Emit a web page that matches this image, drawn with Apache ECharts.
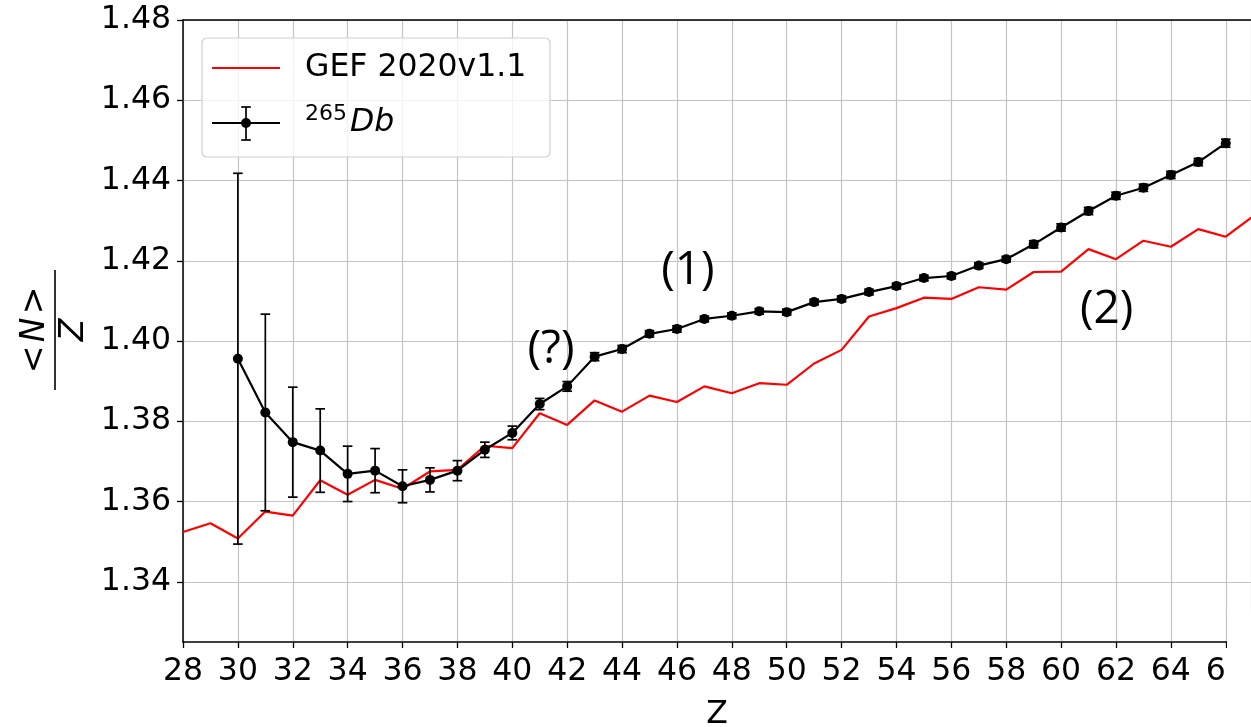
<!DOCTYPE html>
<html>
<head>
<meta charset="utf-8">
<script src="https://cdn.jsdelivr.net/npm/echarts@6/dist/echarts.min.js"></script>
<style>
  html, body { margin: 0; padding: 0; background: #fff; }
  #chart { width: 1251px; height: 727px; }
</style>
</head>
<body>
<div id="chart"></div>
<script>
// GEF 2020v1.1 prediction of <N>/Z versus fragment charge Z
const gefZ = [28, 29, 30, 31, 32, 33, 34, 35, 36, 37, 38, 39, 40, 41, 42, 43, 44, 45, 46, 47,
              48, 49, 50, 51, 52, 53, 54, 55, 56, 57, 58, 59, 60, 61, 62, 63, 64, 65, 66, 67];
const gefValues = [1.3524, 1.3546, 1.3508, 1.3575, 1.3565, 1.3653, 1.3617, 1.3654, 1.3632, 1.3675,
                   1.3679, 1.3739, 1.3733, 1.3820, 1.3791, 1.3852, 1.3824, 1.3864, 1.3848, 1.3887,
                   1.3870, 1.3895, 1.3891, 1.3944, 1.3978, 1.4061, 1.4082, 1.4108, 1.4105, 1.4134,
                   1.4128, 1.4172, 1.4173, 1.4229, 1.4204, 1.4250, 1.4235, 1.4279, 1.4260, 1.4311];

// 265Db measurement: mean <N>/Z and its uncertainty per Z
const dbZ = [30, 31, 32, 33, 34, 35, 36, 37, 38, 39, 40, 41, 42, 43, 44, 45, 46, 47, 48, 49,
             50, 51, 52, 53, 54, 55, 56, 57, 58, 59, 60, 61, 62, 63, 64, 65, 66];
const dbValues = [1.3956, 1.3822, 1.3748, 1.3727, 1.3669, 1.3677, 1.3638, 1.3654, 1.3677, 1.3729,
                  1.3771, 1.3843, 1.3887, 1.3961, 1.3980, 1.4018, 1.4030, 1.4055, 1.4063, 1.4074,
                  1.4072, 1.4097, 1.4105, 1.4122, 1.4137, 1.4157, 1.4162, 1.4188, 1.4204, 1.4241,
                  1.4283, 1.4324, 1.4362, 1.4382, 1.4414, 1.4446, 1.4493];
const dbErrors = [0.0462, 0.0245, 0.0137, 0.0104, 0.0069, 0.0055, 0.0041, 0.0030, 0.0025, 0.0019,
                  0.0017, 0.0014, 0.0012, 0.0010, 0.0009, 0.0008, 0.0008, 0.0007, 0.0007, 0.0007,
                  0.0007, 0.0007, 0.0007, 0.0007, 0.0007, 0.0007, 0.0007, 0.0007, 0.0007, 0.0009,
                  0.0009, 0.0009, 0.0009, 0.0009, 0.0009, 0.0009, 0.0010];

const yTicks = [1.34, 1.36, 1.38, 1.40, 1.42, 1.44, 1.46, 1.48];

const seriesNames = ['GEF 2020v1.1', '265Db'];
const notes = [
  { text: '(?)', z: 41.41, v: 1.3978 },
  { text: '(1)', z: 46.40, v: 1.4175 },
  { text: '(2)', z: 61.66, v: 1.4078 }
];

const FONT = 'DejaVu Sans';
const NOTE_FONT = 'Open Sans';
const FS = 31.5;

const gefData = gefZ.map((z, i) => [z, gefValues[i]]);
const dbData = dbZ.map((z, i) => [z, dbValues[i]]);
const errData = dbZ.map((z, i) => [z, dbValues[i], dbErrors[i]]);

const chart = echarts.init(document.getElementById('chart'), null, { renderer: 'canvas' });

const gridLine = { show: true, lineStyle: { color: '#c4c4c4', width: 1.2 } };

const option = {
  animation: false,
  backgroundColor: '#ffffff',
  grid: { left: 183, right: 0, top: 20, bottom: 85, containLabel: false, outerBoundsMode: 'none' },
  xAxis: [{
    type: 'value',
    min: 28, max: 66.92, interval: 2,
    name: 'Z', nameLocation: 'middle', nameGap: 57,
    nameTextStyle: { fontFamily: FONT, fontSize: FS, color: '#000' },
    axisLine: { show: true, onZero: false, lineStyle: { color: '#000', width: 1.5 } },
    axisTick: { show: true, inside: false, length: 6, lineStyle: { color: '#000', width: 1.3 } },
    axisLabel: { show: true, margin: 14, showMaxLabel: false, fontFamily: FONT, fontSize: FS, color: '#000',
                 formatter: v => String(Math.round(v)) },
    splitLine: gridLine
  }, {
    type: 'value', position: 'top',
    min: 28, max: 66.92,
    axisLine: { show: true, onZero: false, lineStyle: { color: '#000', width: 1.5 } },
    axisTick: { show: false }, axisLabel: { show: false }, splitLine: { show: false }
  }],
  yAxis: {
    type: 'value',
    min: 1.325, max: 1.48,
    axisLine: { show: true, onZero: false, lineStyle: { color: '#000', width: 1.5 } },
    axisTick: { show: true, inside: false, length: 6, customValues: yTicks, lineStyle: { color: '#000', width: 1.3 } },
    axisLabel: { show: true, margin: 12, customValues: yTicks, fontFamily: FONT, fontSize: FS, color: '#000',
                 formatter: v => v.toFixed(2) },
    splitLine: gridLine
  },
  series: [
    {
      name: seriesNames[0],
      type: 'line',
      data: gefData,
      showSymbol: false,
      symbol: 'none',
      lineStyle: { color: '#ff0000', width: 2.2 },
      z: 3
    },
    {
      name: seriesNames[1],
      type: 'line',
      data: dbData,
      symbol: 'circle',
      symbolSize: 10,
      itemStyle: { color: '#000' },
      lineStyle: { color: '#000', width: 2.2 },
      z: 4
    },
    {
      name: 'errors',
      type: 'custom',
      data: errData,
      clip: true,
      z: 5,
      renderItem: function (params, api) {
        const x = api.value(0), y = api.value(1), e = api.value(2);
        const top = api.coord([x, y + e]);
        const bot = api.coord([x, y - e]);
        const hw = 4.8;
        const st = { stroke: '#000', lineWidth: 1.7 };
        return {
          type: 'group',
          children: [
            { type: 'line', shape: { x1: top[0], y1: top[1], x2: bot[0], y2: bot[1] }, style: st },
            { type: 'line', shape: { x1: top[0] - hw, y1: top[1], x2: top[0] + hw, y2: top[1] }, style: st },
            { type: 'line', shape: { x1: bot[0] - hw, y1: bot[1], x2: bot[0] + hw, y2: bot[1] }, style: st }
          ]
        };
      }
    }
  ]
};

chart.setOption(option);

// Text notes placed in data coordinates
const noteGraphics = notes.map(n => {
  const p = chart.convertToPixel({ gridIndex: 0 }, [n.z, n.v]);
  return {
    type: 'text', x: p[0], y: p[1], z: 50,
    style: { text: n.text, fontFamily: NOTE_FONT, fontSize: 46, fill: '#000', align: 'center', verticalAlign: 'middle' }
  };
});

chart.setOption({
  graphic: [
    // legend frame
    { type: 'rect', z: 60, shape: { x: 202, y: 38, width: 348, height: 119, r: 5 },
      style: { fill: 'rgba(255,255,255,0.8)', stroke: '#cfcfcf', lineWidth: 1.2 } },
    { type: 'line', z: 61, shape: { x1: 212, y1: 68, x2: 280, y2: 68 },
      style: { stroke: '#ff0000', lineWidth: 2.2 } },
    { type: 'text', z: 61, x: 305, y: 68,
      style: { text: seriesNames[0], fontFamily: FONT, fontSize: FS, fill: '#000', verticalAlign: 'middle' } },
    { type: 'line', z: 61, shape: { x1: 212, y1: 123, x2: 280, y2: 123 },
      style: { stroke: '#000', lineWidth: 2.2 } },
    { type: 'line', z: 61, shape: { x1: 246, y1: 107, x2: 246, y2: 140 },
      style: { stroke: '#000', lineWidth: 1.7 } },
    { type: 'line', z: 61, shape: { x1: 241.2, y1: 107, x2: 250.8, y2: 107 },
      style: { stroke: '#000', lineWidth: 1.7 } },
    { type: 'line', z: 61, shape: { x1: 241.2, y1: 140, x2: 250.8, y2: 140 },
      style: { stroke: '#000', lineWidth: 1.7 } },
    { type: 'circle', z: 62, shape: { cx: 246, cy: 123, r: 5 }, style: { fill: '#000' } },
    { type: 'text', z: 61, x: 305, y: 114,
      style: { text: '265', fontFamily: FONT, fontSize: 22, fill: '#000', verticalAlign: 'middle' } },
    { type: 'text', z: 61, x: 350, y: 123,
      style: { text: 'Db', fontFamily: FONT, fontStyle: 'italic', fontSize: FS, fill: '#000', verticalAlign: 'middle' } },

    // y-axis title: <N> over Z, reading bottom to top
    {
      type: 'group', x: 55, y: 330, rotation: Math.PI / 2, z: 50,
      children: [
        { type: 'text', x: 0, y: -20,
          style: { text: '{n|<} {i|N} {n|>}', align: 'center', verticalAlign: 'middle',
                   rich: { n: { fontFamily: FONT, fontSize: 33, fill: '#000' },
                           i: { fontFamily: FONT, fontSize: 33, fontStyle: 'italic', fill: '#000' } } } },
        { type: 'line', shape: { x1: -60, y1: 0, x2: 60, y2: 0 }, style: { stroke: '#000', lineWidth: 1.6 } },
        { type: 'text', x: 0, y: 19,
          style: { text: 'Z', fontFamily: FONT, fontSize: 33, fontStyle: 'italic', fill: '#000',
                   align: 'center', verticalAlign: 'middle' } }
      ]
    },

    // blank corner at the lower right
    { type: 'rect', z: 100, shape: { x: 1227, y: 612, width: 30, height: 120 }, style: { fill: '#ffffff' } }
  ].concat(noteGraphics)
});
</script>
</body>
</html>
